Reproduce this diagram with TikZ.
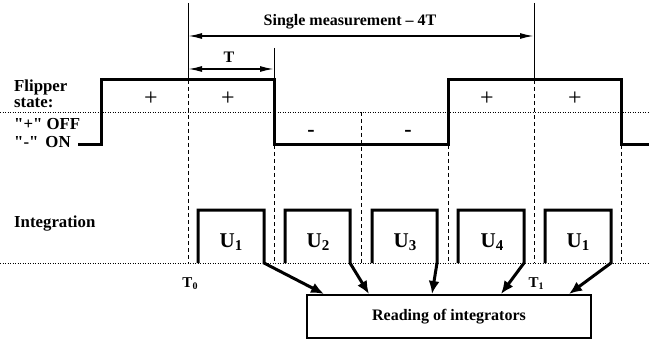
\documentclass[tikz,border=0pt]{standalone}
\usepackage{fontspec}
\setmainfont{Liberation Serif}[Ligatures=TeXOff]
\usetikzlibrary{arrows.meta,calc}
\newcommand\Usub[1]{U\raisebox{-0.35ex}{\fontsize{15}{15}\selectfont #1}}
\newcommand\Tsub[1]{T\raisebox{-0.3ex}{\fontsize{10}{10}\selectfont #1}}
\begin{document}
\begin{tikzpicture}[x=1pt,y=-1pt,
  lbl/.style={font=\fontsize{16.8}{18}\selectfont\bfseries, inner sep=0pt, anchor=base west},
  ctr/.style={font=\fontsize{16}{18}\selectfont\bfseries, inner sep=0pt, anchor=base},
  wave/.style={line width=3pt, line join=miter},
  thinl/.style={line width=0.8pt},
  dsh/.style={line width=0.8pt, dash pattern=on 4pt off 3pt},
  dotl/.style={line width=0.8pt, dash pattern=on 1pt off 1.5pt},
  dimarr/.style={line width=1.6pt, {Latex[length=14pt,width=6pt]}-{Latex[length=14pt,width=6pt]}},
  rdarr/.style={line width=3pt, line join=miter, -{Latex[length=13pt,width=11pt]}},
  sign/.style={font=\fontsize{24}{24}\selectfont, inner sep=0pt},
  msign/.style={font=\fontsize{22}{22}\selectfont\bfseries, inner sep=0pt},
  ulbl/.style={font=\fontsize{21}{21}\selectfont\bfseries, inner sep=0pt, anchor=base},
  box/.style={draw, line width=2pt, minimum width=284pt, minimum height=43pt, inner sep=0pt,
    font=\fontsize{16}{18}\selectfont\bfseries},
]
\useasboundingbox (0,0) rectangle (649,345);

% left labels
\node[lbl] (fl) at (14,92) {Flipper};
\node[lbl] (st) at (14,108) {state:};
\node[lbl] (off) at (14,129) {"+" OFF};
\node[lbl] (on) at (14,147) {"-"\ \,ON};
\node[lbl] (int) at (14,227) {Integration};

% dotted baselines
\draw[dotl] (0,112) -- (649,112);
\draw[dotl] (0,263) -- (649,263);

% reference vertical lines
\draw[thinl] (188,3) -- (188,80);
\draw[dsh] (188,80) -- (188,263);
\draw[thinl] (274,48) -- (274,80);
\draw[dsh] (274,145) -- (274,263);
\draw[dsh] (361,112) -- (361,263);
\draw[dsh] (448,145) -- (448,263);
\draw[thinl] (534,3) -- (534,80);
\draw[dsh] (534,80) -- (534,263);
\draw[dsh] (621,145) -- (621,263);

% flipper waveform
\draw[wave] (78,145) -- (101,145) -- (101,80) -- (274,80) -- (274,145)
  -- (448,145) -- (448,80) -- (621,80) -- (621,145) -- (649,145);

% signs
\node[sign] (p1) at (151,99) {+};
\node[sign] (p2) at (228,99) {+};
\node[msign] (m1) at (311,133) {-};
\node[msign] (m2) at (408,133) {-};
\node[sign] (p3) at (487,99) {+};
\node[sign] (p4) at (575,99) {+};

% dimension arrows
\coordinate (sa) at (188,36);
\coordinate (sb) at (534,36);
\draw[dimarr] (sa) -- (sb);
\node[ctr] (smt) at (350,26) {Single measurement \textendash\ 4T};
\coordinate (ta) at (188,69);
\coordinate (tb) at (274,69);
\draw[dimarr] (ta) -- (tb);
\node[ctr] (tt) at (229,63) {T};

% reading box
\node[box] (rd) at (449,316.5) {Reading of integrators};
\path (rd.north west) ++(18,0) coordinate (a1)
      (rd.north west) ++(63,0) coordinate (a2)
      (rd.north west) ++(126,0) coordinate (a3)
      (rd.north west) ++(195,0) coordinate (a4)
      (rd.north west) ++(263,0) coordinate (a5);

% integration pulses with arrows
\draw[rdarr] (198,263) -- (198,210) -- (264,210) -- (264,263) -- (a1);
\draw[rdarr] (285,263) -- (285,210) -- (350,210) -- (350,263) -- (a2);
\draw[rdarr] (372,263) -- (372,210) -- (437,210) -- (437,263) -- (a3);
\draw[rdarr] (458,263) -- (458,210) -- (524,210) -- (524,263) -- (a4);
\draw[rdarr] (545,263) -- (545,210) -- (611,210) -- (611,263) -- (a5);

\node[ulbl] (u1) at (231,247) {\Usub{1}};
\node[ulbl] (u2) at (318,247) {\Usub{2}};
\node[ulbl] (u3) at (405,247) {\Usub{3}};
\node[ulbl] (u4) at (492,247) {\Usub{4}};
\node[ulbl] (u5) at (578,247) {\Usub{1}};

% time labels
\node[ctr, font=\fontsize{15}{15}\selectfont\bfseries] (t0) at (190,287) {\Tsub{0}};
\node[ctr, font=\fontsize{15}{15}\selectfont\bfseries] (t1) at (536,287) {\Tsub{1}};
\end{tikzpicture}
\end{document}
